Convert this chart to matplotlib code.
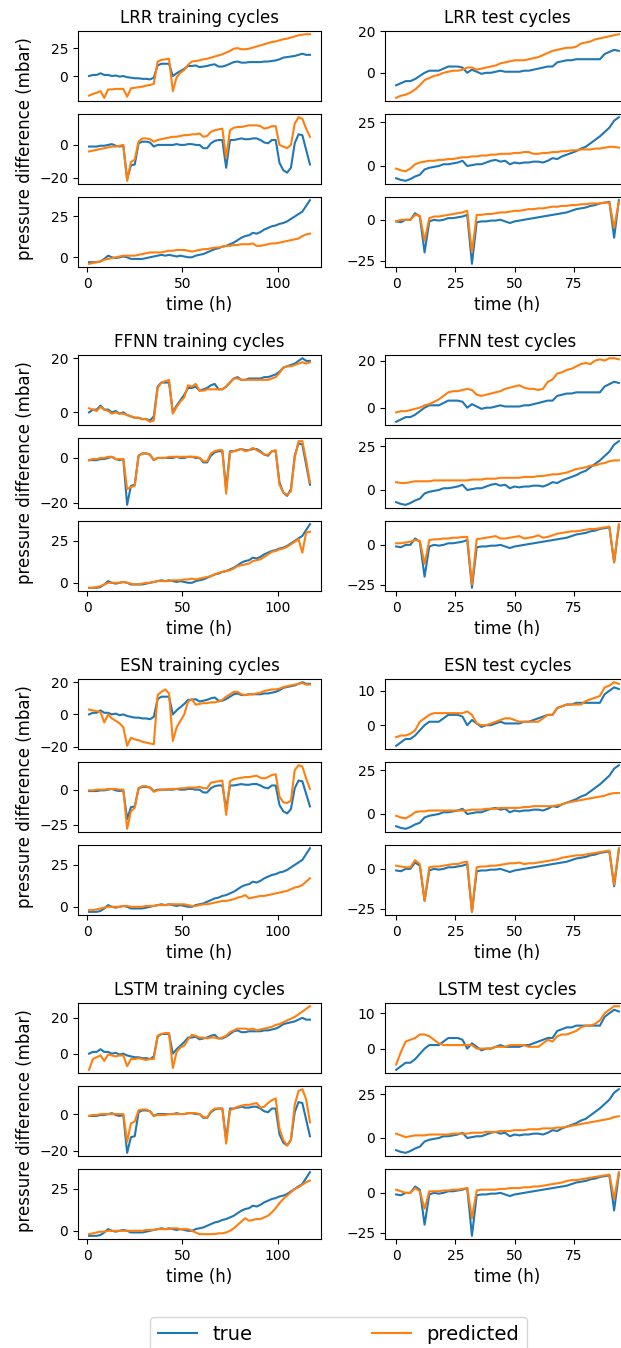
import numpy as np
import matplotlib
matplotlib.use("Agg")
import matplotlib.pyplot as plt

# ---------------- data ----------------
time_train = np.arange(1, 118, 2)   # hours
time_test = np.arange(0, 95, 2)     # hours

true_tr1 = [0, 1, 1, 2.5, 1, 1, 0, 0.5, -0.5, 0,
            -1, -1.5, -2, -2, -2.5, -2.5, -3, -1.5, 9.5, 11,
            11, 11, 0, 2.5, 4.5, 6.5, 9, 9, 9.5, 8,
            8.5, 9, 10, 10.5, 8.5, 8.5, 9.5, 11, 12.5, 13,
            12, 12, 12.5, 12.5, 12.5, 12.5, 13, 13, 13.5, 14,
            15, 16.5, 17, 17.5, 18, 19, 20, 19, 19]
true_tr2 = [-1, -1, -1, -0.5, -0.5, 0, 0.5, -0.5, -1, -0.5,
            -21, -12.5, -12, 1, 2, 2, 1.5, -1, 0, 0,
            0, 0, 0, 0.5, 0, 0, 0.5, 0.5, 0, 0,
            -2, -2, 1, 2.5, 3, 3, -14, 3, 3, 3.5,
            4, 3.5, 3.5, 4, 4, 3, 1.5, 1, 3, 3,
            -11, -15.5, -17, -14, 1, 6.5, 6, -3, -12]
true_tr3 = [-3, -3, -3, -2.5, -1, 1, 0, -0.5, 0, 0.5,
            0, -1, -1, -1, -1, -0.5, 0, 0.5, 1, 1.5,
            1, 1.5, 1, 0.5, 1, 0.5, 0, 0, 1, 1.5,
            2, 3, 4, 5, 5.5, 6.5, 7, 8, 9, 10.5,
            12, 13, 13.5, 15, 14.5, 15.5, 17, 18, 19, 19.5,
            20.5, 21, 22, 23.5, 25, 26.5, 28, 31.5, 35]

true_te1 = [-6, -5, -4, -4, -3, -1.5, 0, 1, 1, 1,
            2, 3, 3, 3, 2.5, 0, 1.5, 0.5, -0.5, 0,
            0, 0.5, 1, 0.5, 0.5, 0.5, 0.5, 1, 1, 1.5,
            2, 2.5, 3, 3, 5, 5.5, 6, 6, 6.5, 6.5,
            6.5, 6.5, 6.5, 6.5, 9, 10, 11, 10.5]
true_te2 = [-7, -8, -8.5, -7.5, -6, -5, -2, -1, -0.5, 0,
            1, 1, 1.5, 2, 3, 0, 0.5, 1, 1, 2,
            3, 3.5, 2.5, 3, 1, 2, 1.5, 2, 2, 2.5,
            2.5, 2, 3, 4.5, 4, 5.5, 6.5, 7.5, 8.5, 10,
            11, 13, 15, 17, 19.5, 22, 26, 28]
true_te3 = [-1, -1.5, 0, 0, 4, 2, -20, -1, 0, -0.5,
            0, 1, 1, 1.5, 2, 3, -27, -1.5, -1, -1,
            -0.5, -0.5, 0, -1, -2, -1, -0.5, 0, 0.5, 1,
            1.5, 2, 2.5, 3, 3.5, 4, 4.5, 5.5, 6.5, 7,
            7.5, 8.5, 9, 10, 10.5, 11, -11, 12]

lrr_tr1 = [-17.5, -16, -15, -13.5, -19.5, -12, -12, -11.5, -11.5, -11.5,
           -18.5, -11, -10.5, -10, -9.5, -8.5, -8, -7, 13, 14.5,
           15, 15.5, -13.5, -1, 3, 5.5, 10, 13, 13.5, 14,
           15, 15.5, 16.5, 17.5, 18.5, 19.5, 21, 22.5, 24.5, 25,
           24, 24, 24.5, 25.5, 26.5, 27.5, 28.5, 29.5, 30.5, 31,
           32, 33, 33.5, 34.5, 35.5, 36.5, 37, 37.5, 37.5]
lrr_tr2 = [-4, -3.5, -3, -2.5, -2, -1.5, -1, -1, -0.5, 0,
           -22, -10.5, -9, 2, 4, 4, 3.5, 2, 3, 3.5,
           4, 4.5, 5, 5, 5.5, 6, 6, 6.5, 6.5, 7,
           5, 5.5, 8, 9, 9.5, 10, -8, 9, 10.5, 11,
           11, 11.5, 12, 12, 12, 11.5, 10, 10.5, 11.5, 11.5,
           0, -1, -2, 0, 13, 17, 16, 10, 5]
lrr_tr3 = [-4, -3.5, -3, -2.5, -1.5, -1, -0.5, 0, 0.5, 1,
           1, 1, 1, 1.5, 2, 2.5, 3, 3, 3, 3,
           3.5, 4, 4, 4.5, 4.5, 4.5, 4, 3.5, 4, 4.5,
           5, 5, 5.5, 6, 6, 6.5, 7, 7, 7.5, 7.5,
           8, 8, 8, 8.5, 7, 7, 7.5, 8, 8.5, 8.5,
           9, 9.5, 10, 10.5, 11, 11.5, 13, 14, 14.5]
lrr_te1 = [-12, -11, -10.5, -9.5, -8, -6, -3.5, -2.5, -1.5, -1,
           0, 0.5, 1, 1, 1.5, 2.5, 2.5, 1.5, 2, 2.5,
           3, 3.5, 4.5, 5, 5.5, 6, 6, 6, 6.5, 7,
           7.5, 8.5, 9.5, 10.5, 11, 11.5, 12, 12, 12.5, 14,
           14.5, 15, 16, 16.5, 17, 17.5, 18, 18.5]
lrr_te2 = [-1.5, -2.5, -3, -1.5, 1, 2, 2.5, 3, 3, 3.5,
           3.5, 4, 4, 4.5, 5, 5, 5.5, 5.5, 6, 6,
           6.5, 6.5, 7, 7, 7, 7.5, 7.5, 8, 8, 7,
           7, 7.5, 7.5, 8, 8, 8.5, 8.5, 9, 9, 9.5,
           9.5, 9.5, 10, 10, 10.5, 11, 11, 10.5]
lrr_te3 = [-1, 0, 0, 0, 3, 2.5, -13, 1, 2, 2,
           2.5, 3, 3.5, 4, 4.5, 5.5, -20, 3, 3, 3.5,
           3.5, 4, 4.5, 4.5, 5, 5.5, 5.5, 6, 6.5, 6.5,
           7, 7, 7.5, 8, 8, 8.5, 8.5, 9, 9, 9.5,
           9.5, 10, 10, 10, 10.5, 10.5, -5, 11]

ffnn_tr1 = [1.5, 1, 0.5, 2, 1, 0.5, -0.5, 0, -0.5, -0.5,
            -1, -1.5, -2, -2, -2.5, -2.5, -3.5, -3, 9, 11,
            11.5, 12, -0.5, 2, 4, 5.5, 10, 9.5, 10.5, 8,
            8, 8.5, 8.5, 8.5, 8.5, 8.5, 9.5, 11, 12.5, 12.5,
            12, 12, 12, 12, 12, 12, 12, 12, 12.5, 13,
            14.5, 16.5, 17, 17, 17.5, 18, 18.5, 18, 18.5]
ffnn_tr2 = [-1, -0.5, -0.5, 0, 0, 0.5, 0.5, -0.5, -0.5, -0.5,
            -14, -13, -12.5, 1, 2, 2, 1.5, -1, 0, 0,
            0, 0.5, 0.5, 0.5, 0.5, 0.5, 0.5, 0.5, 0.5, 0,
            -1.5, -1.5, 2, 3, 3.5, 3.5, -16, 2.5, 3, 3.5,
            4, 3, 3.5, 4.5, 3.5, 2.5, 1.5, 1.5, 3, 3.5,
            -12, -15.5, -16.5, -15, 0, 7.5, 7.5, -1, -11]
ffnn_tr3 = [-3, -3, -2.5, -2, -1, 0, 0, 0, 0, 0.5,
            0, -0.5, -1, -1, -0.5, 0, 0, 0.5, 1, 1,
            1, 1, 1.5, 1.5, 1.5, 2, 2, 2.5, 2, 2.5,
            3, 3.5, 4, 5, 6, 6.5, 7, 7.5, 8.5, 10,
            10.5, 11, 11.5, 13, 13.5, 14, 15.5, 17, 18.5, 19,
            20, 20.5, 21.5, 23, 24.5, 26, 18, 30, 30.5]
ffnn_te1 = [-2, -1.5, -1.5, -1, -0.5, 0, 1, 1.5, 2.5, 3.5,
            5, 6.5, 7, 7, 7.5, 8, 7.5, 5.5, 5, 5.5,
            6, 6.5, 7, 8, 8.5, 9, 9.5, 8.5, 8, 8,
            7.5, 8, 11, 12, 14.5, 15, 16, 16.5, 17.5, 18.5,
            19, 18.5, 20, 20.5, 20, 21, 21, 20.5]
ffnn_te2 = [4.5, 4, 4, 4.5, 5, 5, 5, 5, 5.5, 5.5,
            5.5, 5.5, 5.5, 5.5, 5.5, 5.5, 6, 6, 6, 6.5,
            6.5, 6.5, 7, 7, 7, 7, 7, 7.5, 7.5, 7.5,
            8, 8, 8.5, 9, 9, 9.5, 10, 11, 12, 12.5,
            13, 14, 14, 15, 15.5, 16.5, 17, 17]
ffnn_te3 = [1, 1, 1.5, 2, 3, 2.5, -12, 3, 3.5, 3.5,
            4, 4, 4.5, 4.5, 5, 5, -25, 3.5, 4, 4.5,
            5, 5.5, 4, 4, 4.5, 5, 5.5, 4, 4.5, 5,
            6, 4.5, 5, 6, 7, 7.5, 8, 8.5, 8.5, 9,
            9.5, 10, 10, 10.5, 11, 11.5, -11, 13]

esn_tr1 = [3, 2.5, 2, 1.5, -5, 0, -2.5, -4, -5.5, -8,
           -19.5, -14.5, -15.5, -16, -17, -17.5, -18, -18.5, 12, 14,
           15.5, 13, -16.5, -8, -4, 0, 8, 9.5, 6, 6.5,
           7, 7, 7.5, 7.5, 8, 9, 11, 12.5, 14, 14,
           12.5, 12, 12.5, 12.5, 13, 13.5, 14.5, 15, 15.5, 15.5,
           16, 17, 17.5, 18, 18.5, 19, 19.5, 18.5, 18.5]
esn_tr2 = [-0.5, -0.5, 0, 0, 0, 0.5, 0.5, 0.5, 0, 0,
           -28, -15.5, -13, 1, 2.5, 2.5, 1.5, -1.5, -0.5, 0,
           0, 0.5, 0.5, 0.5, 1, 1, 1.5, 1.5, 1.5, 2,
           1, 1, 5, 5.5, 6, 6.5, -18, 6, 7.5, 8,
           8.5, 9, 9, 9.5, 10, 8.5, 8, 9, 10.5, 11,
           -5, -9, -9.5, -8, 14, 17.5, 16.5, 8, 0.5]
esn_tr3 = [-2, -2, -1.5, -1, -0.5, 0, 0, 0, 0, 0.5,
           0.5, 0, 0, 0, 0, 0.5, 0.5, 0.5, 1, 1,
           1, 1.5, 1.5, 1.5, 1.5, 1.5, 1, 0.5, 0.5, 1,
           1.5, 1.5, 2, 2.5, 3, 3.5, 3.5, 4, 4.5, 5.5,
           6, 7, 5, 5.5, 6, 6.5, 6.5, 7, 7.5, 8,
           8.5, 9, 9.5, 10.5, 11.5, 12, 13, 15, 17]
esn_te1 = [-3.5, -3, -3, -2.5, -1.5, 1, 2, 3, 3.5, 3.5,
           3.5, 3.5, 3.5, 3.5, 3.5, 4, 3, 0.5, 0, 0,
           0.5, 1, 1.5, 2, 2, 1.5, 1, 1, 1, 1,
           1, 2, 3, 3, 5, 5.5, 6, 6, 6, 6,
           7, 7.5, 8, 8.5, 11, 11.5, 12.5, 12]
esn_te2 = [-1, -2, -2.5, -1, 1, 1.5, 1.5, 2, 2, 2,
           2, 2, 2, 2, 2, 2, 2.5, 2.5, 2.5, 3,
           3, 3, 3.5, 3.5, 3.5, 3.5, 3.5, 4, 4, 4.5,
           4.5, 4.5, 4.5, 4.5, 5, 5.5, 6.5, 7, 7.5, 8,
           8.5, 9, 9.5, 10, 10.5, 11.5, 12, 12]
esn_te3 = [2, 1.5, 1, 1, 5.5, 3, -20, 1, 1.5, 1.5,
           2, 2.5, 3, 3, 4, 4.5, -27, 1, 1.5, 1.5,
           2, 2, 2.5, 3, 3.5, 3.5, 4, 3, 3.5, 3.5,
           4, 4.5, 5, 5.5, 6, 7, 7.5, 8, 8.5, 8.5,
           9, 9.5, 10, 10.5, 11, 11.5, -10, 13]

lstm_tr1 = [-9, -3, -2, -1, -4, -0.5, -1, -1.5, -1, -1,
            -7, -3, -3, -2.5, -3, -3.5, -3, -3, 10, 11,
            11.5, 11.5, -8, 1, 3.5, 4.5, 8, 10.5, 10, 9,
            9, 8.5, 9, 9, 8.5, 9, 10, 12, 13, 14,
            14, 14, 13.5, 14, 13, 13.5, 14, 14.5, 15, 16,
            16.5, 17.5, 18.5, 19.5, 20.5, 22, 23.5, 25, 26.5]
lstm_tr2 = [-1, -0.5, -0.5, 0, 0, 0, 0, 0, 0, 0,
            -15, -5, -4, 2, 2.5, 2.5, 1.5, -1, -0.5, -0.5,
            -0.5, 0, 0, 0, 0, 0, 0.5, 0.5, 0.5, 0,
            -1.5, -2, 1.5, 3, 3, 3, -16, 2, 3, 4,
            4.5, 5, 5, 5.5, 6, 3.5, 4, 6, 7.5, 8.5,
            -8, -14, -17, -14, 5, 12.5, 13.5, 8, -4.5]
lstm_tr3 = [-2, -1.5, -1, -0.5, -0.5, 0, 0, 0, 0, 0,
            0, 0, 0, 0, 0, 0.5, 0.5, 0.5, 1, 1,
            1, 1, 1.5, 1.5, 1, 1, 1, 0, -1, -2,
            -2, -2, -2, -2, -1.5, -1.5, -1, 0, 1.5, 3.5,
            5.5, 7.5, 6, 6.5, 7, 7, 8, 9, 11, 13.5,
            16.5, 19, 21, 23, 25, 26, 27.5, 29, 30]
lstm_te1 = [-4.5, -1, 2, 2.5, 3, 4, 4, 3.5, 2.5, 1.5,
            1, 1, 1, 1, 1, 1, 1, 0, 0, 0,
            0, 0.5, 0.5, 0.5, 1, 1, 1, 1, 0.5, 0.5,
            0.5, 1.5, 2.5, 2, 3.5, 4, 4, 4.5, 5, 6,
            6.5, 6.5, 7, 8, 10, 11, 12, 12]
lstm_te2 = [2.5, 1.5, 0.5, 1, 1.5, 1.5, 1.5, 2, 2, 2,
            2, 2, 2.5, 2.5, 2.5, 2.5, 3, 3, 3, 3.5,
            3.5, 3.5, 4, 4, 4, 4.5, 4.5, 4.5, 5, 5,
            5, 5.5, 5.5, 5.5, 6, 6, 6.5, 7, 7.5, 8,
            8.5, 9, 9.5, 10, 10.5, 11, 12, 12.5]
lstm_te3 = [2, 1, 0, 0, 3, 1, -10, 1, 1, 1,
            1.5, 1.5, 2, 2, 2.5, 3, -16, 1.5, 2, 2,
            2, 2, 2.5, 2.5, 3, 3, 3, 3.5, 3.5, 4,
            4, 4.5, 5, 5.5, 6, 6.5, 7.5, 8, 8, 8.5,
            9, 9.5, 10, 10.5, 11, 11.5, -4, 13]

models = ["LRR", "FFNN", "ESN", "LSTM"]
true_train = [true_tr1, true_tr2, true_tr3]
true_test = [true_te1, true_te2, true_te3]
predictions = {
    "LRR": ([lrr_tr1, lrr_tr2, lrr_tr3], [lrr_te1, lrr_te2, lrr_te3]),
    "FFNN": ([ffnn_tr1, ffnn_tr2, ffnn_tr3], [ffnn_te1, ffnn_te2, ffnn_te3]),
    "ESN": ([esn_tr1, esn_tr2, esn_tr3], [esn_te1, esn_te2, esn_te3]),
    "LSTM": ([lstm_tr1, lstm_tr2, lstm_tr3], [lstm_te1, lstm_te2, lstm_te3]),
}

# ---------------- figure ----------------
W, H = 621, 1348
fig = plt.figure(figsize=(W / 100, H / 100), dpi=100)

col_px = [(78, 321), (385, 630)]
ax_h = 70
line_true = line_pred = None
for g, m in enumerate(models):
    top0 = 31 + 324 * g
    for c in range(2):
        x0, x1 = col_px[c]
        t = time_train if c == 0 else time_test
        trues = true_train if c == 0 else true_test
        preds = predictions[m][c]
        for k in range(3):
            top = top0 + 83 * k
            ax = fig.add_axes([x0 / W, 1 - (top + ax_h) / H, (x1 - x0) / W, ax_h / H])
            line_true, = ax.plot(t, trues[k], color="C0", lw=1.5)
            line_pred, = ax.plot(t, preds[k], color="C1", lw=1.5)
            if k == 0:
                ax.set_title(f"{m} {'training' if c == 0 else 'test'} cycles", fontsize=12)
            if k < 2:
                ax.tick_params(axis="x", bottom=False, labelbottom=False)
            else:
                ax.set_xlabel("time (h)", fontsize=12)
            if c == 0 and k == 1:
                ax.set_ylabel("pressure difference (mbar)", fontsize=12)

fig.legend([line_true, line_pred], ["true", "predicted"],
           loc="upper left", bbox_to_anchor=(150 / W, 0, 377 / W, 1 - 1317 / H),
           mode="expand", ncol=2, fontsize=14, borderaxespad=0)

fig.savefig("out.png", dpi=100)
